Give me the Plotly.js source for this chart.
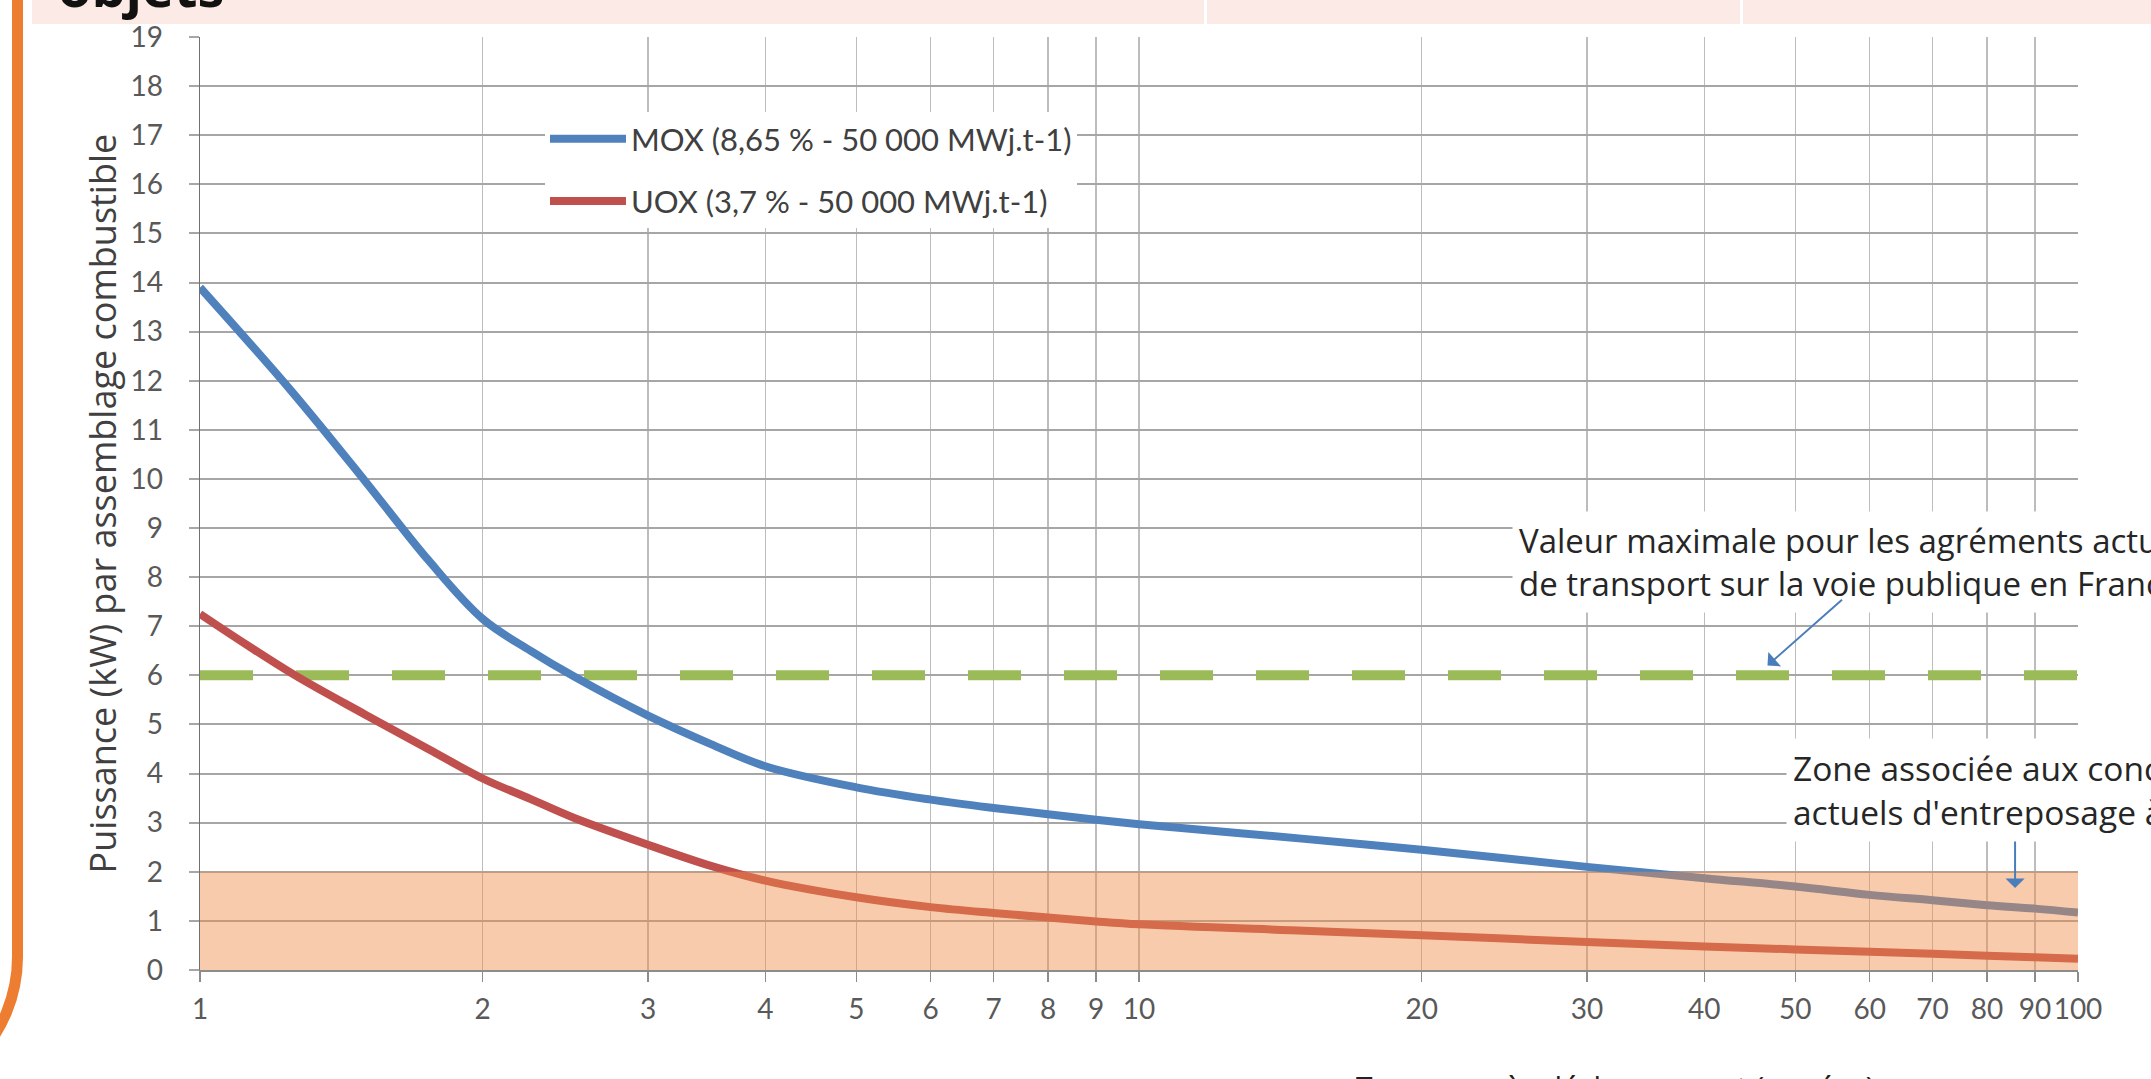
<!DOCTYPE html>
<html>
<head>
<meta charset="utf-8">
<script src="https://cdn.plot.ly/plotly-3.0.1.min.js"></script>
<style>
html,body{margin:0;padding:0;background:#fff;overflow:hidden;width:2151px;height:1079px;}
#chart{position:absolute;left:0;top:0;width:2151px;height:1079px;}
#header{position:absolute;left:32px;top:0;width:2119px;height:24px;background:#fbeae6;z-index:5;}
.sep{position:absolute;top:0;width:3px;height:24px;background:#fff;}
#pagetitle{position:absolute;left:58px;top:-41px;font:bold 54px 'Open Sans',sans-serif;color:#111;z-index:6;line-height:1;white-space:nowrap;}
#frame{position:absolute;left:-200px;top:-20px;width:212px;height:1116px;border-right:11px solid #ed7d31;border-bottom:11px solid #ed7d31;border-bottom-right-radius:150px;z-index:6;}
</style>
</head>
<body>
<div id="chart"></div>
<div id="header"><div class="sep" style="left:1172px"></div><div class="sep" style="left:1708px"></div></div>
<div id="pagetitle">objets</div>
<div id="frame"></div>
<script>
// ---- data ----
const years = [1, 1.25, 1.5, 1.75, 2, 2.25, 2.5, 3, 3.5, 4, 5, 6, 7, 8, 9, 10, 15, 20, 30, 40, 50, 60, 70, 80, 90, 100];
const moxPower = [13.9, 11.8, 9.95, 8.35, 7.15, 6.5, 5.98, 5.18, 4.6, 4.15, 3.72, 3.47, 3.3, 3.17, 3.06, 2.97, 2.67, 2.45, 2.1, 1.87, 1.7, 1.53, 1.42, 1.32, 1.25, 1.17];
const uoxPower = [7.25, 6.05, 5.2, 4.5, 3.9, 3.48, 3.1, 2.55, 2.12, 1.82, 1.48, 1.28, 1.16, 1.07, 0.99, 0.93, 0.8, 0.71, 0.57, 0.48, 0.42, 0.37, 0.33, 0.29, 0.26, 0.23];
const seriesNames = ['MOX (8,65 % - 50 000 MWj.t-1)', 'UOX (3,7 % - 50 000 MWj.t-1)'];
const limitYears = [1, 100];
const transportLimit = [6, 6];
const storageZone = [0, 2];
const tickYears = [1, 2, 3, 4, 5, 6, 7, 8, 9, 10, 20, 30, 40, 50, 60, 70, 80, 90, 100];
const tickYearLabels = ['1','2','3','4','5','6','7','8','9','10','20','30','40','50','60','70','80','90','100'];
const powerTicks = [0,1,2,3,4,5,6,7,8,9,10,11,12,13,14,15,16,17,18,19];
const powerTickLabels = powerTicks.map(String);
const majorDecade = 10;
const textTransport = 'Valeur maximale pour les agréments actuels<br>de transport sur la voie publique en France';
const textStorage = 'Zone associée aux concepts<br>actuels d\'entreposage à sec';
const xTitle = 'Temps après déchargement (années)';
const yTitle = 'Puissance (kW) par assemblage combustible';

const FONT = 'Lato, "Open Sans", sans-serif';
const FONT2 = '"Open Sans", Lato, sans-serif';
const TXT = '#404040';

const traces = [
  {x: limitYears, y: transportLimit, mode: 'lines', showlegend: false, hoverinfo: 'skip',
   line: {color: '#9bbb59', width: 10, dash: '53px,43px'}},
  {x: years, y: moxPower, name: seriesNames[0], mode: 'lines', legendgroup: 'a',
   line: {color: '#4f81bd', width: 8, shape: 'spline', smoothing: 1}},
  {x: years, y: uoxPower, name: seriesNames[1], mode: 'lines', legendgroup: 'b',
   line: {color: '#c0504d', width: 8, shape: 'spline', smoothing: 1}}
];

const layout = {
  width: 2151, height: 1079,
  margin: {l: 200, r: 73, t: 37, b: 109},
  paper_bgcolor: '#ffffff', plot_bgcolor: '#ffffff',
  font: {family: FONT, color: TXT},
  xaxis: {
    type: 'log', range: [0, 2], tickmode: 'array', tickvals: tickYears, ticktext: tickYearLabels,
    ticks: 'outside', ticklen: 10, tickwidth: 1.5, tickcolor: '#8c8c8c',
    showgrid: true, gridcolor: '#bdbdbd', gridwidth: 1.5,
    showline: true, linecolor: '#8c8c8c', linewidth: 1.5, zeroline: false,
    tickfont: {family: FONT, size: 28, color: '#595959'}, ticklabelstandoff: 4
  },
  yaxis: {
    range: [0, 19], tickmode: 'array', tickvals: powerTicks, ticktext: powerTickLabels,
    ticks: 'outside', ticklen: 10, tickwidth: 2, tickcolor: '#a6a6a6',
    showgrid: true, gridcolor: '#a6a6a6', gridwidth: 2,
    showline: true, linecolor: '#707070', linewidth: 1.5, zeroline: false,
    tickfont: {family: FONT, size: 28, color: '#595959'}, ticklabelstandoff: 20
  },
  legend: {
    x: 0.1837, y: 0.9196, xanchor: 'left', yanchor: 'top',
    bgcolor: '#ffffff', borderwidth: 0, traceorder: 'grouped', tracegroupgap: 19,
    itemwidth: 76, font: {family: FONT, size: 31, color: TXT}
  },
  shapes: [
    {type: 'line', xref: 'x', yref: 'paper', x0: majorDecade, x1: majorDecade, y0: 0, y1: 1,
     layer: 'between', line: {color: '#808080', width: 1.5}},
    {type: 'rect', xref: 'paper', yref: 'y', x0: 0, x1: 1, y0: storageZone[0], y1: storageZone[1],
     fillcolor: 'rgba(240,140,70,0.45)', line: {width: 0}, layer: 'above'}
  ],
  annotations: [
    {xref: 'paper', yref: 'paper', x: -0.0517, y: 0.5, xanchor: 'center', yanchor: 'middle',
     text: yTitle, textangle: -90, showarrow: false,
     font: {family: FONT2, size: 36, color: TXT}},
    {xref: 'paper', yref: 'paper', x: 0.7535, y: -0.1008, xanchor: 'center', yanchor: 'top',
     text: xTitle, showarrow: false,
     font: {family: FONT2, size: 30, color: '#222'}},
    {xref: 'paper', yref: 'paper', x: 0.6986, y: 0.4373, xanchor: 'left', yanchor: 'middle', align: 'left',
     text: textTransport, showarrow: false, bgcolor: '#ffffff', borderpad: 6,
     font: {family: FONT2, size: 33, color: '#262626'}},
    {xref: 'paper', yref: 'paper', x: 0.8445, y: 0.1929, xanchor: 'left', yanchor: 'middle', align: 'left',
     text: textStorage, showarrow: false, bgcolor: '#ffffff', borderpad: 6,
     font: {family: FONT2, size: 33.5, color: '#262626'}},
    {xref: 'x', yref: 'y', x: Math.log10(46.7), y: 6.2, text: '', showarrow: true, ax: 76, ay: -67,
     arrowhead: 1, arrowsize: 1.6, arrowwidth: 2, arrowcolor: '#4a7ebb', standoff: 0},
    {xref: 'x', yref: 'y', x: Math.log10(85.7), y: 1.67, text: '', showarrow: true, ax: 0, ay: -48,
     arrowhead: 1, arrowsize: 1.6, arrowwidth: 2, arrowcolor: '#4a7ebb', standoff: 0}
  ]
};

Plotly.newPlot('chart', traces, layout, {staticPlot: true, displayModeBar: false});
</script>
</body>
</html>
